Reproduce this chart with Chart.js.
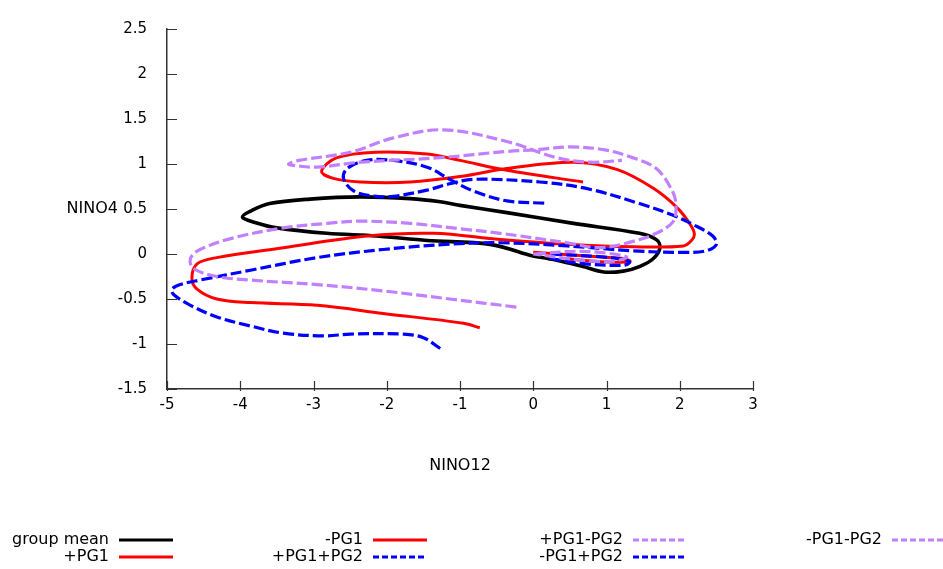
<!DOCTYPE html>
<html>
<head>
<meta charset="utf-8">
<script src="https://cdn.jsdelivr.net/npm/chart.js@4"></script>
<style>
  html, body { margin: 0; padding: 0; background: #fff; }
  #wrap { width: 943px; height: 569px; }
</style>
</head>
<body>
<div id="wrap"><canvas id="chart" width="943" height="569"></canvas></div>
<script>
const xTicks = [-5, -4, -3, -2, -1, 0, 1, 2, 3];
const yTicks = [-1.5, -1, -0.5, 0, 0.5, 1, 1.5, 2, 2.5];

// group mean
const meanX = [-0.02, 0.32, 0.68, 0.96, 1.23, 1.45, 1.64, 1.73, 1.68, 1.45, 0.55, -0.36, -1.0, -1.27, -1.68, -2.36, -3.05, -3.6, -3.85, -3.97, -3.8, -3.5, -2.82, -2.14, -1.45, -0.59, -0.02];
const meanY = [-0.02, -0.07, -0.14, -0.20, -0.19, -0.14, -0.05, 0.07, 0.16, 0.23, 0.34, 0.46, 0.54, 0.58, 0.615, 0.635, 0.61, 0.56, 0.48, 0.41, 0.35, 0.29, 0.23, 0.20, 0.15, 0.107, -0.02];

// +PG1
const pPG1X = [-0.73, -0.95, -2.05, -2.95, -3.86, -4.32, -4.59, -4.66, -4.59, -4.32, -3.41, -2.27, -1.36, -0.45, 0.46, 1.36, 2.05, 2.16, 2.2, 2.15, 1.97, 1.64, 1.14, 0.54, -0.36, -1.0, -1.68, -2.36, -2.73, -2.89, -2.68, -2.14, -1.45, -1.0, -0.36, 0.68];
const pPG1Y = [-0.82, -0.77, -0.66, -0.57, -0.54, -0.50, -0.39, -0.27, -0.11, -0.04, 0.07, 0.20, 0.23, 0.16, 0.107, 0.08, 0.09, 0.15, 0.22, 0.32, 0.51, 0.73, 0.94, 1.02, 0.95, 0.86, 0.80, 0.80, 0.84, 0.92, 1.07, 1.13, 1.11, 1.04, 0.93, 0.80];

// -PG1
const mPG1X = [0.46, 0.68, 1.05, 1.32, 1.23, 0.68, 0.0];
const mPG1Y = [-0.05, -0.07, -0.09, -0.08, -0.05, -0.02, 0.02];

// +PG1+PG2
const pp12X = [-1.27, -1.50, -1.77, -2.50, -2.86, -3.41, -3.86, -4.32, -4.68, -4.91, -4.93, -4.82, -4.55, -3.86, -2.95, -2.05, -1.14, -0.45, 0.46, 1.36, 2.05, 2.36, 2.5, 2.45, 2.2, 1.91, 1.45, 0.77, 0.09, -0.82, -1.14, -1.45, -1.91, -2.14, -2.45, -2.59, -2.54, -2.27, -1.91, -1.45, -1.14, -0.82, -0.36, 0.16];
const pp12Y = [-1.05, -0.93, -0.89, -0.89, -0.91, -0.88, -0.80, -0.70, -0.57, -0.45, -0.39, -0.34, -0.29, -0.18, -0.04, 0.05, 0.11, 0.125, 0.09, 0.035, 0.018, 0.035, 0.107, 0.2, 0.32, 0.43, 0.56, 0.72, 0.80, 0.83, 0.78, 0.71, 0.64, 0.64, 0.70, 0.84, 0.95, 1.04, 1.04, 0.965, 0.83, 0.70, 0.59, 0.565];

// +PG1-PG2
const pm12X = [-0.23, -1.14, -2.05, -2.95, -3.86, -4.32, -4.64, -4.68, -4.55, -4.09, -3.41, -2.82, -2.36, -1.68, -1.0, -0.45, 0.46, 0.91, 1.36, 1.68, 1.91, 1.95, 1.91, 1.68, 1.32, 0.96, 0.5, 0.05, -0.36, -1.27, -2.36, -2.95, -3.27, -3.34, -3.2, -2.5, -1.91, -1.23, -0.36, 0.32, 0.77, 1.21];
const pm12Y = [-0.59, -0.50, -0.41, -0.34, -0.29, -0.25, -0.16, -0.05, 0.05, 0.18, 0.29, 0.34, 0.365, 0.34, 0.28, 0.23, 0.125, 0.07, 0.14, 0.23, 0.36, 0.52, 0.68, 0.95, 1.08, 1.16, 1.19, 1.16, 1.14, 1.07, 1.02, 0.965, 0.985, 1.0, 1.04, 1.13, 1.29, 1.38, 1.25, 1.07, 1.02, 1.04];

// -PG1+PG2
const mp12X = [0.23, 0.68, 1.23, 1.32, 1.23, 0.9, 0.23];
const mp12Y = [-0.05, -0.107, -0.125, -0.09, -0.06, -0.03, 0.0];

// -PG1-PG2
const mm12X = [0.02, 0.68, 1.27, 1.1, 0.68, 0.0];
const mm12Y = [0.0, 0.03, -0.03, -0.08, -0.07, 0.0];

const RED = "#ff0000", BLUE = "#0000ff", PURPLE = "#c080ff";
const DASH = [11, 4];

const zip = (xs, ys) => xs.map((x, i) => ({ x, y: ys[i] }));

const series = [
  { label: "group mean", xs: meanX, ys: meanY, color: "#000000", dash: [], width: 3.6 },
  { label: "+PG1", xs: pPG1X, ys: pPG1Y, color: RED, dash: [], width: 3 },
  { label: "-PG1", xs: mPG1X, ys: mPG1Y, color: RED, dash: [], width: 3 },
  { label: "+PG1+PG2", xs: pp12X, ys: pp12Y, color: BLUE, dash: DASH, width: 3.2 },
  { label: "+PG1-PG2", xs: pm12X, ys: pm12Y, color: PURPLE, dash: DASH, width: 3.2 },
  { label: "-PG1+PG2", xs: mp12X, ys: mp12Y, color: BLUE, dash: DASH, width: 3.2 },
  { label: "-PG1-PG2", xs: mm12X, ys: mm12Y, color: PURPLE, dash: DASH, width: 3.2 },
];

const datasets = series.map((s, i) => ({
  label: s.label,
  data: zip(s.xs, s.ys),
  showLine: true,
  borderColor: s.color,
  backgroundColor: s.color,
  borderWidth: s.width,
  borderDash: s.dash,
  pointRadius: 0,
  tension: 0.35,
  order: -i,
}));

const FONT = "DejaVu Sans";

// inward tick marks, horizontal y title and the bottom key
const decor = {
  id: "decor",
  afterDraw(chart) {
    const { ctx, chartArea: a, scales: { x, y } } = chart;
    ctx.save();
    ctx.strokeStyle = "#333";
    ctx.lineWidth = 1.2;
    ctx.beginPath();
    for (const v of xTicks) {
      const px = Math.round(x.getPixelForValue(v)) + 0.5;
      ctx.moveTo(px, a.bottom - 8); ctx.lineTo(px, a.bottom + 2);
    }
    for (const v of yTicks) {
      const py = Math.round(y.getPixelForValue(v)) + 0.5;
      ctx.moveTo(a.left, py); ctx.lineTo(a.left + 10, py);
    }
    ctx.stroke();

    ctx.fillStyle = "#000";
    ctx.font = `16px "${FONT}"`;
    ctx.textAlign = "right";
    ctx.textBaseline = "middle";
    ctx.fillText("NINO4", 118, y.getPixelForValue(0.5));

    const cols = [119, 373, 633, 892];
    const rows = [540, 557];
    const slots = [[0, 0], [0, 1], [1, 0], [1, 1], [2, 0], [2, 1], [3, 0]];
    series.forEach((s, i) => {
      const [c, r] = slots[i];
      const lx = cols[c], ly = rows[r];
      ctx.fillText(s.label, lx - 10, ly);
      ctx.beginPath();
      ctx.strokeStyle = s.color;
      ctx.lineWidth = 3;
      ctx.setLineDash(s.dash.length ? [6, 3] : []);
      ctx.moveTo(lx, ly); ctx.lineTo(lx + 54, ly);
      ctx.stroke();
    });
    ctx.restore();
  },
};

new Chart(document.getElementById("chart"), {
  type: "scatter",
  data: { datasets },
  options: {
    responsive: false,
    animation: false,
    layout: { padding: { top: 16, right: 190, bottom: 90, left: 0 } },
    scales: {
      x: {
        type: "linear", min: -5, max: 3,
        afterBuildTicks: (s) => { s.ticks = xTicks.map(v => ({ value: v })); },
        afterFit: (s) => { s.height = 90; },
        grid: { display: false, drawTicks: false },
        border: { display: true, color: "#333", width: 1.5 },
        ticks: { padding: 7, color: "#000", font: { family: FONT, size: 15 }, callback: (v) => String(v), maxRotation: 0 },
        title: { display: true, text: "NINO12", color: "#000", font: { family: FONT, size: 16 }, padding: { top: 4, bottom: 4 } },
      },
      y: {
        type: "linear", min: -1.5, max: 2.5,
        afterBuildTicks: (s) => { s.ticks = yTicks.map(v => ({ value: v })); },
        afterFit: (s) => { s.width = 167; },
        grid: { display: false, drawTicks: false },
        border: { display: true, color: "#333", width: 1.5 },
        ticks: { padding: 20, color: "#000", font: { family: FONT, size: 15 }, callback: (v) => String(v) },
      },
    },
    plugins: {
      legend: { display: false },
      tooltip: { enabled: false },
    },
  },
  plugins: [decor],
});
</script>
</body>
</html>
